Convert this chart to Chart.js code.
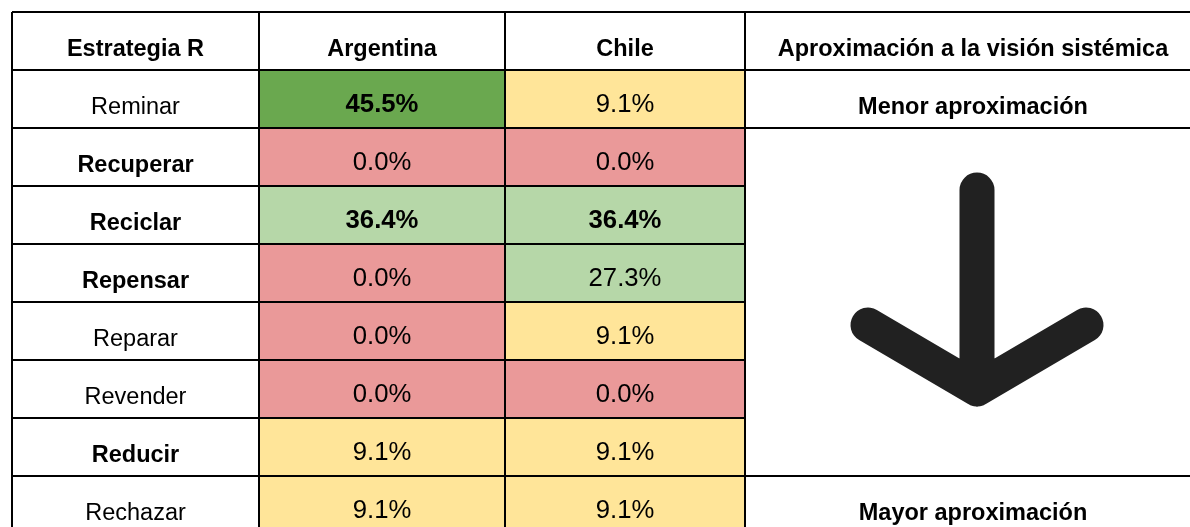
<!DOCTYPE html>
<html>
<head>
<meta charset="utf-8">
<script src="https://cdn.jsdelivr.net/npm/chart.js@4/dist/chart.umd.min.js"></script>
<style>
  html, body { margin: 0; padding: 0; background: #fff; overflow: hidden; }
  #wrap { width: 1210px; height: 540px; }
</style>
</head>
<body>
<div id="wrap"><canvas id="tabla" width="1210" height="540"></canvas></div>
<script>
// datos de la tabla
const headers = ['Estrategia R', 'Argentina', 'Chile', 'Aproximación a la visión sistémica'];
const strategies = ['Reminar', 'Recuperar', 'Reciclar', 'Repensar', 'Reparar', 'Revender', 'Reducir', 'Rechazar'];
const strategyBold = [false, true, true, true, false, false, true, false];
const argentina = [45.5, 0.0, 36.4, 0.0, 0.0, 0.0, 9.1, 9.1];
const chile = [9.1, 0.0, 36.4, 27.3, 9.1, 0.0, 9.1, 9.1];
const approxLabels = ['Menor aproximación', 'Mayor aproximación'];

// layout: anchos de columna (unidades del eje x)
const colWidths = [247, 246, 240, 456];
const colEdges = colWidths.reduce((acc, w) => { acc.push(acc[acc.length - 1] + w); return acc; }, [0]);
const FONT = '"Liberation Sans", Arial, sans-serif';
const rowLabels = [headers[0], ...strategies];

function cellColor(v) {
  if (v >= 40) return '#6aa84f';
  if (v >= 20) return '#b6d7a8';
  if (v > 0) return '#ffe599';
  return '#ea9999';
}

function colData(values, col) {
  return [null, ...values.map(() => [colEdges[col], colEdges[col + 1]])];
}

const tablePlugin = {
  id: 'tablePlugin',
  beforeDraw(chart) {
    const ctx = chart.ctx;
    ctx.save();
    ctx.fillStyle = '#fff';
    ctx.fillRect(0, 0, chart.width, chart.height);
    ctx.restore();
  },
  afterDraw(chart) {
    const ctx = chart.ctx;
    const x = chart.scales.x;
    const y = chart.scales.y;
    const bandH = y.getPixelForValue(1) - y.getPixelForValue(0);
    const top = i => y.getPixelForValue(i) - bandH / 2;
    const bottom = i => y.getPixelForValue(i) + bandH / 2;
    const colX = c => x.getPixelForValue(colEdges[c]);
    const colMid = c => (colX(c) + colX(c + 1)) / 2;
    const n = rowLabels.length;

    ctx.save();
    ctx.fillStyle = '#000';
    ctx.textAlign = 'center';
    ctx.textBaseline = 'alphabetic';
    const put = (txt, c, row, bold, size, lift) => {
      ctx.font = (bold ? 'bold ' : '') + size + 'px ' + FONT;
      ctx.fillText(txt, colMid(c), bottom(row) - lift);
    };

    // cabecera
    headers.forEach((h, c) => put(h, c, 0, true, 23.5, 14.5));
    // filas
    strategies.forEach((s, i) => {
      put(s, 0, i + 1, strategyBold[i], 23.5, 14.5);
      put(argentina[i].toFixed(1) + '%', 1, i + 1, argentina[i] >= 30, 25.7, 16);
      put(chile[i].toFixed(1) + '%', 2, i + 1, chile[i] >= 30, 25.7, 16);
    });
    put(approxLabels[0], 3, 1, true, 23.5, 14.5);
    put(approxLabels[1], 3, n - 1, true, 23.5, 14.5);

    // bordes
    ctx.strokeStyle = '#000';
    ctx.lineWidth = 2;
    ctx.beginPath();
    for (let r = 0; r <= n; r++) {
      const yy = r < n ? top(r) : bottom(n - 1);
      const merged = r >= 3 && r <= n - 2;
      ctx.moveTo(colX(0), yy);
      ctx.lineTo(merged ? colX(3) : colX(4), yy);
    }
    for (let c = 0; c <= 4; c++) {
      ctx.moveTo(colX(c), top(0));
      ctx.lineTo(colX(c), bottom(n - 1));
    }
    ctx.stroke();

    // flecha en la celda combinada
    const cy = (top(2) + bottom(n - 2)) / 2;
    const cx = colMid(3) + 4;
    ctx.strokeStyle = '#212121';
    ctx.lineWidth = 35;
    ctx.lineCap = 'round';
    ctx.lineJoin = 'round';
    ctx.beginPath();
    ctx.moveTo(cx, cy - 112);
    ctx.lineTo(cx, cy + 87);
    ctx.moveTo(cx - 109, cy + 23);
    ctx.lineTo(cx, cy + 87);
    ctx.lineTo(cx + 109, cy + 23);
    ctx.stroke();
    ctx.restore();
  }
};

new Chart(document.getElementById('tabla'), {
  type: 'bar',
  data: {
    labels: rowLabels,
    datasets: [
      {
        label: headers[1],
        data: colData(argentina, 1),
        backgroundColor: ctx => ctx.dataIndex > 0 ? cellColor(argentina[ctx.dataIndex - 1]) : 'transparent',
        borderWidth: 0,
        grouped: false,
        barPercentage: 1,
        categoryPercentage: 1
      },
      {
        label: headers[2],
        data: colData(chile, 2),
        backgroundColor: ctx => ctx.dataIndex > 0 ? cellColor(chile[ctx.dataIndex - 1]) : 'transparent',
        borderWidth: 0,
        grouped: false,
        barPercentage: 1,
        categoryPercentage: 1
      }
    ]
  },
  options: {
    indexAxis: 'y',
    responsive: false,
    animation: false,
    layout: { padding: { left: 12, top: 12, right: 9, bottom: 6 } },
    plugins: { legend: { display: false }, tooltip: { enabled: false } },
    scales: {
      x: { type: 'linear', min: 0, max: colEdges[colEdges.length - 1], display: false },
      y: { display: false }
    }
  },
  plugins: [tablePlugin]
});
</script>
</body>
</html>
